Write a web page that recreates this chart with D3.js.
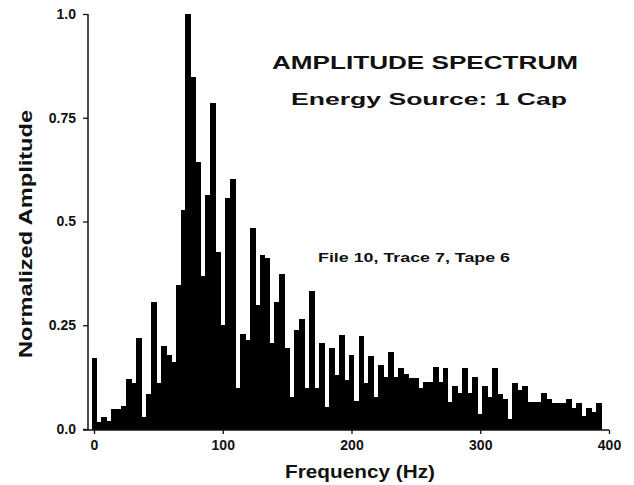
<!DOCTYPE html>
<html>
<head>
<meta charset="utf-8">
<script src="https://cdn.jsdelivr.net/npm/d3@7"></script>
<style>
  html, body { margin: 0; padding: 0; background: #fff; }
  svg { display: block; }
  text { font-family: "Liberation Sans", Arial, sans-serif; font-weight: bold; fill: #111; }
</style>
</head>
<body>
<svg id="chart" width="634" height="485"></svg>
<script>
// ---- data ----
const binWidthHz = 3.84;
const amplitudes = [
  0.17, 0.018, 0.028, 0.02, 0.048, 0.048, 0.056, 0.12, 0.11, 0.22,
  0.03, 0.084, 0.307, 0.11, 0.2, 0.178, 0.162, 0.347, 0.528, 1.0,
  0.847, 0.644, 0.369, 0.564, 0.785, 0.427, 0.25, 0.556, 0.603, 0.1,
  0.23, 0.215, 0.485, 0.298, 0.42, 0.412, 0.208, 0.305, 0.374, 0.194,
  0.078, 0.238, 0.264, 0.099, 0.333, 0.099, 0.207, 0.054, 0.195, 0.13,
  0.227, 0.118, 0.178, 0.068, 0.225, 0.11, 0.177, 0.078, 0.154, 0.126,
  0.185, 0.126, 0.146, 0.133, 0.124, 0.124, 0.098, 0.114, 0.114, 0.149,
  0.114, 0.146, 0.066, 0.104, 0.086, 0.146, 0.086, 0.126, 0.037, 0.104,
  0.076, 0.146, 0.084, 0.072, 0.024, 0.112, 0.094, 0.104, 0.066, 0.066,
  0.066, 0.086, 0.072, 0.063, 0.063, 0.063, 0.072, 0.051, 0.062, 0.032,
  0.05, 0.042, 0.062
];
const xTicks = [0, 100, 200, 300, 400];
const xTickLabels = ["0", "100", "200", "300", "400"];
const yTicks = [0, 0.25, 0.5, 0.75, 1.0];
const yTickLabels = ["0.0", "0.25", "0.5", "0.75", "1.0"];
const titleText = "AMPLITUDE SPECTRUM";
const subtitleText = "Energy Source: 1 Cap";
const noteText = "File 10, Trace 7, Tape 6";
const xAxisTitle = "Frequency (Hz)";
const yAxisTitle = "Normalized Amplitude";

const bins = amplitudes.map((a, i) => ({ f: i * binWidthHz, a }));

// ---- layout ----
const svg = d3.select("#chart");
const axisX0 = 88, axisY0 = 430;
const x = d3.scaleLinear().domain([0, 400]).range([94, 609]);
const y = d3.scaleLinear().domain([0, 1]).range([429, 14]);

// bars
svg.append("g")
  .attr("shape-rendering", "crispEdges")
  .selectAll("rect")
  .data(bins)
  .join("rect")
  .attr("x", d => x(d.f - binWidthHz / 2))
  .attr("width", d => x(d.f + binWidthHz / 2) - x(d.f - binWidthHz / 2) + 0.9)
  .attr("y", d => y(d.a))
  .attr("height", d => y(0) - y(d.a) + 1)
  .attr("fill", "#000");

// y axis
const yAxis = d3.axisLeft(y)
  .tickValues(yTicks)
  .tickFormat((d, i) => yTickLabels[i])
  .tickSize(5)
  .tickPadding(7);
const gy = svg.append("g").attr("transform", `translate(${axisX0},0)`).call(yAxis);
gy.select(".domain").remove();
gy.selectAll(".tick line").attr("stroke", "#111").attr("stroke-width", 1.3);
gy.selectAll(".tick text").style("font-size", "14px").attr("fill", "#111");

// x axis
const xAxis = d3.axisBottom(x)
  .tickValues(xTicks)
  .tickFormat((d, i) => xTickLabels[i])
  .tickSize(4)
  .tickPadding(6);
const gx = svg.append("g").attr("transform", `translate(0,${axisY0})`).call(xAxis);
gx.select(".domain").remove();
gx.selectAll(".tick line").attr("stroke", "#111").attr("stroke-width", 1.3);
gx.selectAll(".tick text").style("font-size", "14px").attr("fill", "#111");

// axis lines
svg.append("line").attr("x1", axisX0).attr("x2", axisX0).attr("y1", y(1)).attr("y2", axisY0)
  .attr("stroke", "#111").attr("stroke-width", 1.5);
svg.append("line").attr("x1", 83).attr("x2", x(400)).attr("y1", axisY0).attr("y2", axisY0)
  .attr("stroke", "#111").attr("stroke-width", 1.5);

// titles
svg.append("text").attr("x", 272).attr("y", 69).text(titleText)
  .style("font-size", "19px").attr("textLength", 306).attr("lengthAdjust", "spacingAndGlyphs");
svg.append("text").attr("x", 291).attr("y", 105).text(subtitleText)
  .style("font-size", "17px").attr("textLength", 276).attr("lengthAdjust", "spacingAndGlyphs");
svg.append("text").attr("x", 318).attr("y", 262).text(noteText)
  .style("font-size", "13px").attr("textLength", 192).attr("lengthAdjust", "spacingAndGlyphs");
svg.append("text").attr("x", 360).attr("y", 478).attr("text-anchor", "middle").text(xAxisTitle)
  .style("font-size", "19px").attr("textLength", 150).attr("lengthAdjust", "spacingAndGlyphs");
svg.append("text")
  .attr("transform", "translate(32,234) rotate(-90)")
  .attr("text-anchor", "middle").text(yAxisTitle)
  .style("font-size", "19px").attr("textLength", 248).attr("lengthAdjust", "spacingAndGlyphs");
</script>
</body>
</html>
